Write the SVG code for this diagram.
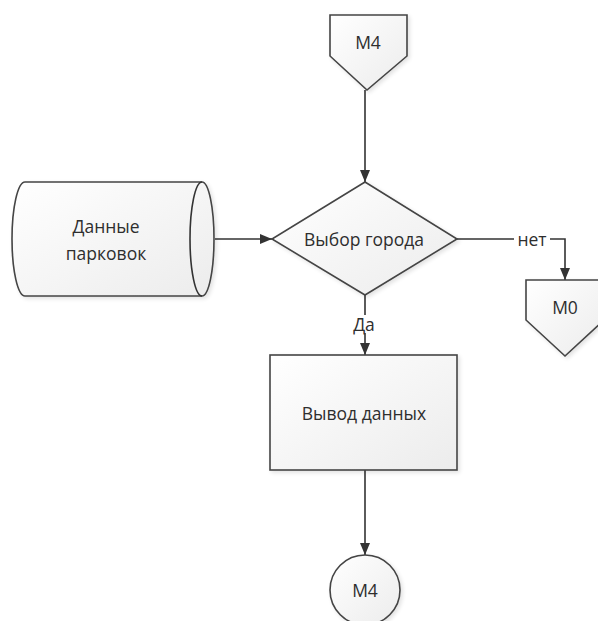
<svg xmlns="http://www.w3.org/2000/svg" width="598" height="621" viewBox="0 0 598 621">
  <defs>
    <linearGradient id="shapeFill" x1="0" y1="0" x2="1" y2="1">
      <stop offset="0" stop-color="#ffffff"/>
      <stop offset="1" stop-color="#ececec"/>
    </linearGradient>
    <filter id="shadow" x="-10%" y="-10%" width="125%" height="125%">
      <feGaussianBlur in="SourceAlpha" stdDeviation="2"/>
      <feOffset dx="2" dy="2"/>
      <feComponentTransfer><feFuncA type="linear" slope="0.12"/></feComponentTransfer>
      <feMerge><feMergeNode/><feMergeNode in="SourceGraphic"/></feMerge>
    </filter>
    <marker id="arrow" viewBox="0 0 12 12" refX="12" refY="6" markerWidth="12" markerHeight="12" markerUnits="userSpaceOnUse" orient="auto">
      <path d="M0,1 L12,6 L0,11 Z" fill="#333333"/>
    </marker>
  </defs>
  <style>
    .shape { fill: url(#shapeFill); stroke: #444444; stroke-width: 1.6; filter: url(#shadow); }
    .line { fill: none; stroke: #333333; stroke-width: 1.6; }
    .label { font-family: "Open Sans", "Noto Sans", "DejaVu Sans", sans-serif; font-size: 17.5px; fill: #2e2e2e; text-anchor: middle; dominant-baseline: central; }
  </style>
  <rect width="598" height="621" fill="#ffffff"/>

  <g id="connectors">
    <path class="line" d="M365,90 L365,182" marker-end="url(#arrow)"/>
    <path class="line" d="M215,239 L272,239" marker-end="url(#arrow)"/>
    <path class="line" d="M457,239 L565,239 L565,280" marker-end="url(#arrow)"/>
    <path class="line" d="M365,295 L365,355" marker-end="url(#arrow)"/>
    <path class="line" d="M365,470 L365,555" marker-end="url(#arrow)"/>
    <rect x="514" y="230" width="36" height="18" fill="#ffffff"/>
    <text class="label" x="532" y="239">нет</text>
    <rect x="349" y="315" width="30" height="18" fill="#ffffff"/>
    <text class="label" x="364" y="324">Да</text>
  </g>

  <g id="offpage-top">
    <path class="shape" d="M330,15 L407,15 L407,56 L367,90 L330,56 Z"/>
    <text class="label" x="368" y="42">M4</text>
  </g>

  <g id="data-store">
    <path class="shape" d="M25,182 L202,182 A12,57 0 0 1 202,296 L25,296 A13,57 0 0 1 25,182 Z"/>
    <path class="line" d="M202,182 A12,57 0 0 0 202,296" stroke="#444444"/>
    <text class="label" x="106" y="226">Данные</text>
    <text class="label" x="106" y="253">парковок</text>
  </g>

  <g id="decision">
    <path class="shape" d="M365,182 L457,239 L365,295 L272,239 Z"/>
    <text class="label" x="364" y="239">Выбор города</text>
  </g>

  <g id="offpage-m0">
    <path class="shape" d="M526,280 L604,280 L604,320 L565,356 L526,320 Z"/>
    <text class="label" x="565" y="307">M0</text>
  </g>

  <g id="output">
    <rect class="shape" x="270" y="355" width="187" height="115"/>
    <text class="label" x="364" y="413">Вывод данных</text>
  </g>

  <g id="connector-m4">
    <circle class="shape" cx="365" cy="590" r="35"/>
    <text class="label" x="365" y="590">M4</text>
  </g>
</svg>
